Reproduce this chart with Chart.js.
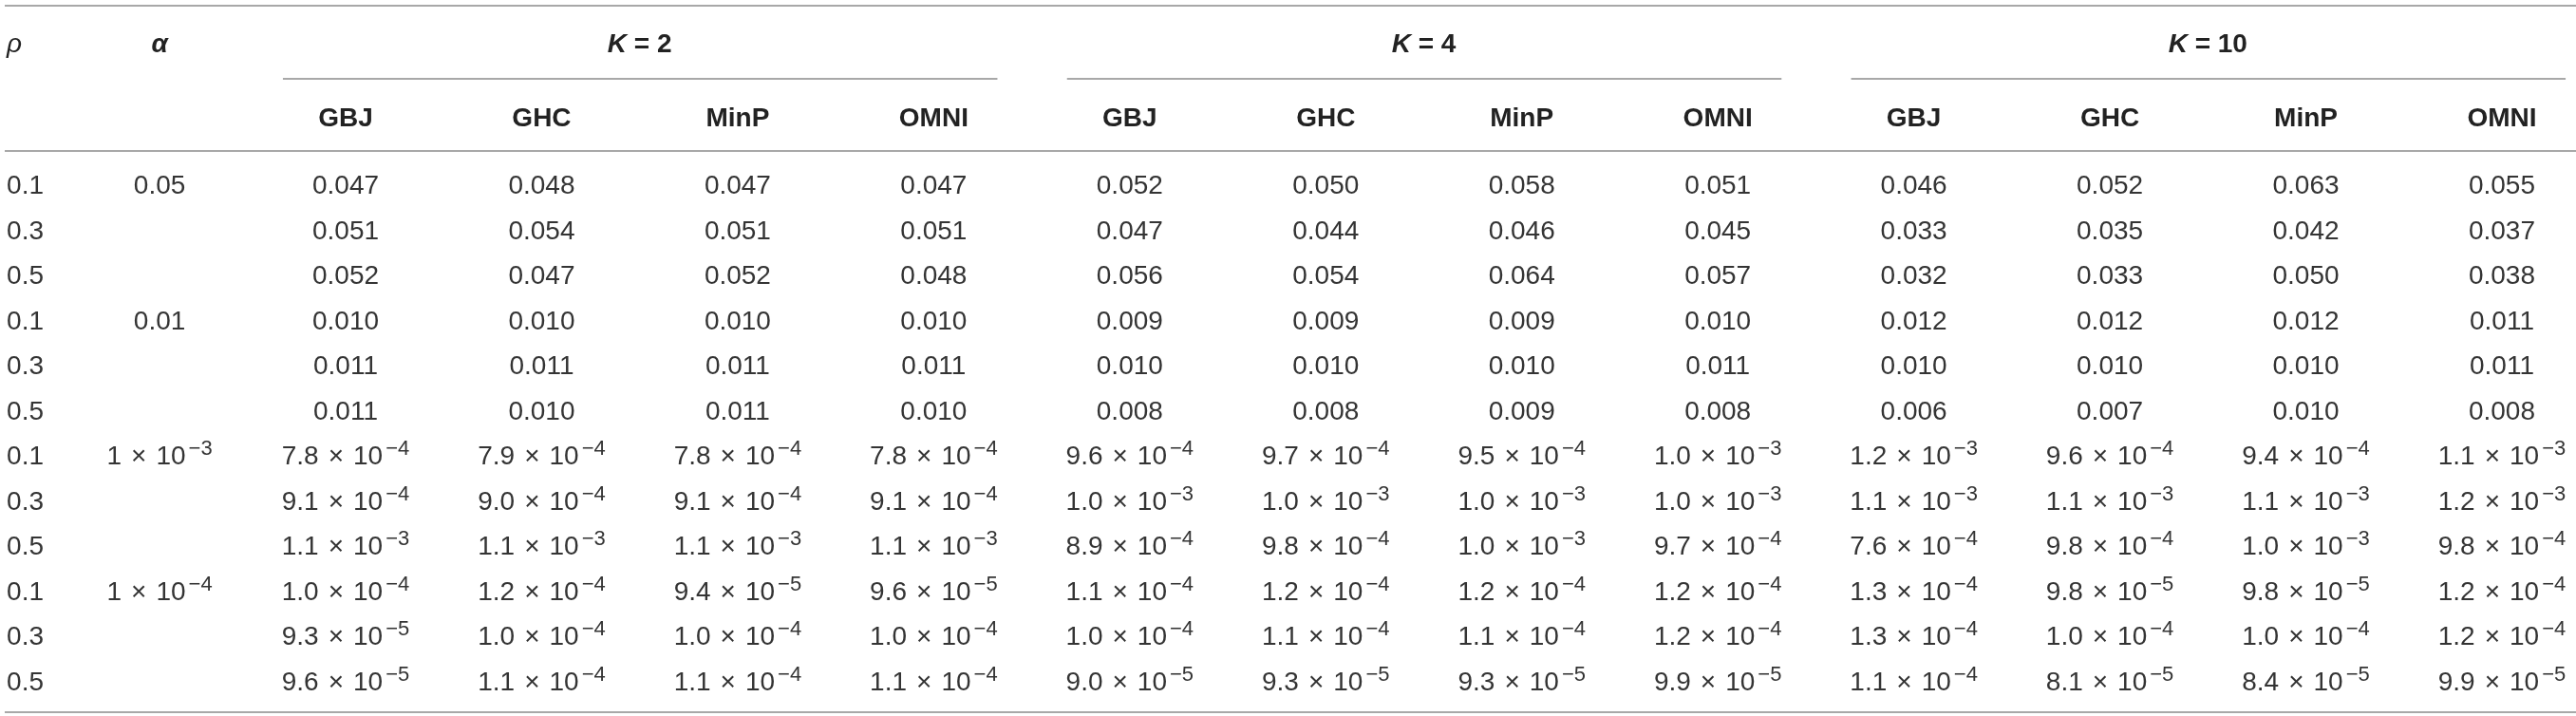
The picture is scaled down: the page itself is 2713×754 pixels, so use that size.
<!DOCTYPE html>
<html>
<head>
<meta charset="utf-8">
<script src="https://cdn.jsdelivr.net/npm/chart.js@4"></script>
<style>
html,body{margin:0;padding:0;background:#fff;}
canvas{display:block;}
</style>
</head>
<body>
<canvas id="c" width="2713" height="754"></canvas>
<script>
// ---------- DATA ----------
const rhoValues   = [0.1, 0.3, 0.5, 0.1, 0.3, 0.5, 0.1, 0.3, 0.5, 0.1, 0.3, 0.5];
const alphaValues = [0.05, 0.05, 0.05, 0.01, 0.01, 0.01, 1e-3, 1e-3, 1e-3, 1e-4, 1e-4, 1e-4];
const groupLabels = ['2', '4', '10'];
const methodLabels = ['GBJ', 'GHC', 'MinP', 'OMNI'];

const k2_GBJ  = [0.047, 0.051, 0.052, 0.010, 0.011, 0.011, 7.8e-4, 9.1e-4, 1.1e-3, 1.0e-4, 9.3e-5, 9.6e-5];
const k2_GHC  = [0.048, 0.054, 0.047, 0.010, 0.011, 0.010, 7.9e-4, 9.0e-4, 1.1e-3, 1.2e-4, 1.0e-4, 1.1e-4];
const k2_MinP = [0.047, 0.051, 0.052, 0.010, 0.011, 0.011, 7.8e-4, 9.1e-4, 1.1e-3, 9.4e-5, 1.0e-4, 1.1e-4];
const k2_OMNI = [0.047, 0.051, 0.048, 0.010, 0.011, 0.010, 7.8e-4, 9.1e-4, 1.1e-3, 9.6e-5, 1.0e-4, 1.1e-4];

const k4_GBJ  = [0.052, 0.047, 0.056, 0.009, 0.010, 0.008, 9.6e-4, 1.0e-3, 8.9e-4, 1.1e-4, 1.0e-4, 9.0e-5];
const k4_GHC  = [0.050, 0.044, 0.054, 0.009, 0.010, 0.008, 9.7e-4, 1.0e-3, 9.8e-4, 1.2e-4, 1.1e-4, 9.3e-5];
const k4_MinP = [0.058, 0.046, 0.064, 0.009, 0.010, 0.009, 9.5e-4, 1.0e-3, 1.0e-3, 1.2e-4, 1.1e-4, 9.3e-5];
const k4_OMNI = [0.051, 0.045, 0.057, 0.010, 0.011, 0.008, 1.0e-3, 1.0e-3, 9.7e-4, 1.2e-4, 1.2e-4, 9.9e-5];

const k10_GBJ  = [0.046, 0.033, 0.032, 0.012, 0.010, 0.006, 1.2e-3, 1.1e-3, 7.6e-4, 1.3e-4, 1.3e-4, 1.1e-4];
const k10_GHC  = [0.052, 0.035, 0.033, 0.012, 0.010, 0.007, 9.6e-4, 1.1e-3, 9.8e-4, 9.8e-5, 1.0e-4, 8.1e-5];
const k10_MinP = [0.063, 0.042, 0.050, 0.012, 0.010, 0.010, 9.4e-4, 1.1e-3, 1.0e-3, 9.8e-5, 1.0e-4, 8.4e-5];
const k10_OMNI = [0.055, 0.037, 0.038, 0.011, 0.011, 0.008, 1.1e-3, 1.2e-3, 9.8e-4, 1.2e-4, 1.2e-4, 9.9e-5];

const seriesByGroup = [
  [k2_GBJ, k2_GHC, k2_MinP, k2_OMNI],
  [k4_GBJ, k4_GHC, k4_MinP, k4_OMNI],
  [k10_GBJ, k10_GHC, k10_MinP, k10_OMNI]
];

// ---------- LAYOUT (column / row units on the chart's scales) ----------
const X_MIN = 0.2368, X_MAX = 13.378;
const Y_MIN = -4.084, Y_MAX = 11.789;
const COL_RHO = 0.271, COL_ALPHA = 1.051, COL_FIRST = 2;
const ROW_HEAD1 = -3.137, ROW_HEAD2 = -1.495;
const RULE_TOP = -3.958, RULE_GROUP = -2.337, RULE_HEAD = -0.737, RULE_BOTTOM = 11.705;
const RULE_LEFT = 0.261;
const GROUP_PAD_L = 0.32, GROUP_PAD_R = 0.325;

const FONT = "'Liberation Sans', Arial, Helvetica, sans-serif";
const TEXT_COLOR = '#343434';
const HEAD_COLOR = '#222222';
const RULE_COLOR = '#a8a8a8';

// ---------- datasets ----------
const datasets = [];
datasets.push({ label: 'rho', kind: 'rho', values: rhoValues,
  data: rhoValues.map((v, i) => ({ x: COL_RHO, y: i })) });
datasets.push({ label: 'alpha', kind: 'alpha', values: alphaValues,
  data: alphaValues.map((v, i) => ({ x: COL_ALPHA, y: i })) });
seriesByGroup.forEach((grp, g) => {
  grp.forEach((arr, m) => {
    const col = COL_FIRST + g * 4 + m;
    datasets.push({ label: 'K' + groupLabels[g] + '_' + methodLabels[m], kind: 'value', values: arr,
      data: arr.map((v, i) => ({ x: col, y: i })) });
  });
});
datasets.forEach(d => { d.pointRadius = 0; d.pointHoverRadius = 0; d.showLine = false; });

// ---------- helpers ----------
function drawSci(ctx, mant, exp, cx, cy, size) {
  const supSize = 22;
  const sp = 10, supGap = 3;
  const fMain = size + 'px ' + FONT, fSup = supSize + 'px ' + FONT;
  const sup = '\u2212' + exp;
  ctx.font = fMain;
  const wM = ctx.measureText(mant).width;
  const wX = ctx.measureText('\u00d7').width;
  const wT = ctx.measureText('10').width;
  ctx.font = fSup;
  const wS = ctx.measureText(sup).width;
  const total = wM + sp + wX + sp + wT + supGap + wS;
  let x = cx - total / 2;
  const base = cy + size * 0.358;
  ctx.textAlign = 'left';
  ctx.textBaseline = 'alphabetic';
  ctx.font = fMain;
  ctx.fillText(mant, x, base); x += wM + sp;
  ctx.fillText('\u00d7', x, base); x += wX + sp;
  ctx.fillText('10', x, base); x += wT + supGap;
  ctx.font = fSup;
  ctx.fillText(sup, x, base - 10);
}
function drawPlain(ctx, txt, cx, cy, size, align, font) {
  ctx.font = font || (size + 'px ' + FONT);
  ctx.textAlign = align || 'center';
  ctx.textBaseline = 'alphabetic';
  ctx.fillText(txt, cx, cy + size * 0.358);
}
function drawValue(ctx, v, alpha, cx, cy) {
  if (alpha >= 0.01) {
    drawPlain(ctx, v.toFixed(3), cx, cy, 28);
  } else {
    const s = v.toExponential(1).split('e');
    drawSci(ctx, s[0], String(Math.abs(parseInt(s[1], 10))), cx, cy, 28);
  }
}

const tablePlugin = {
  id: 'tableDraw',
  afterDatasetsDraw(chart) {
    const ctx = chart.ctx;
    const xs = chart.scales.x, ys = chart.scales.y;
    ctx.save();
    // rules
    ctx.strokeStyle = RULE_COLOR;
    ctx.lineWidth = 2;
    const hline = (y, x1, x2) => {
      ctx.beginPath();
      ctx.moveTo(xs.getPixelForValue(x1), ys.getPixelForValue(y));
      ctx.lineTo(xs.getPixelForValue(x2), ys.getPixelForValue(y));
      ctx.stroke();
    };
    hline(RULE_TOP, RULE_LEFT, X_MAX);
    hline(RULE_HEAD, RULE_LEFT, X_MAX);
    hline(RULE_BOTTOM, RULE_LEFT, X_MAX);
    groupLabels.forEach((g, gi) => {
      const c1 = COL_FIRST + gi * 4, c2 = c1 + 3;
      hline(RULE_GROUP, c1 - GROUP_PAD_L, Math.min(c2 + GROUP_PAD_R, X_MAX));
    });

    // header row 1
    ctx.fillStyle = HEAD_COLOR;
    const yH1 = ys.getPixelForValue(ROW_HEAD1);
    drawPlain(ctx, '\u03c1', xs.getPixelForValue(COL_RHO), yH1, 28, 'left', 'italic 28px ' + FONT);
    drawPlain(ctx, '\u03b1', xs.getPixelForValue(COL_ALPHA), yH1, 28, 'center', 'italic bold 28px ' + FONT);
    groupLabels.forEach((g, gi) => {
      const cx = xs.getPixelForValue(COL_FIRST + gi * 4 + 1.5);
      const fK = 'italic bold 28px ' + FONT, fR = 'bold 28px ' + FONT;
      ctx.font = fK; const wK = ctx.measureText('K').width;
      const rest = ' = ' + g;
      ctx.font = fR; const wR = ctx.measureText(rest).width;
      const x0 = cx - (wK + wR) / 2;
      drawPlain(ctx, 'K', x0, yH1, 28, 'left', fK);
      drawPlain(ctx, rest, x0 + wK, yH1, 28, 'left', fR);
    });
    // header row 2
    const yH2 = ys.getPixelForValue(ROW_HEAD2);
    groupLabels.forEach((g, gi) => {
      methodLabels.forEach((m, mi) => {
        drawPlain(ctx, m, xs.getPixelForValue(COL_FIRST + gi * 4 + mi), yH2, 28, 'center', 'bold 28px ' + FONT);
      });
    });

    // body cells from dataset elements
    ctx.fillStyle = TEXT_COLOR;
    chart.data.datasets.forEach((ds, di) => {
      const meta = chart.getDatasetMeta(di);
      meta.data.forEach((pt, i) => {
        const v = ds.values[i];
        if (ds.kind === 'rho') {
          drawPlain(ctx, v.toFixed(1), pt.x, pt.y, 28, 'left');
        } else if (ds.kind === 'alpha') {
          if (i % 3 !== 0) return;
          if (v >= 0.01) drawPlain(ctx, String(v), pt.x, pt.y, 28, 'center');
          else {
            const s = v.toExponential(0).split('e');
            drawSci(ctx, s[0], String(Math.abs(parseInt(s[1], 10))), pt.x, pt.y, 28);
          }
        } else {
          drawValue(ctx, v, alphaValues[i], pt.x, pt.y);
        }
      });
    });
    ctx.restore();
  }
};

new Chart(document.getElementById('c'), {
  type: 'scatter',
  data: { datasets },
  options: {
    responsive: false,
    animation: false,
    devicePixelRatio: 1,
    layout: { padding: 0 },
    plugins: { legend: { display: false }, tooltip: { enabled: false } },
    events: [],
    scales: {
      x: { type: 'linear', display: false, min: X_MIN, max: X_MAX, bounds: 'data' },
      y: { type: 'linear', display: false, min: Y_MIN, max: Y_MAX, reverse: true, bounds: 'data' }
    }
  },
  plugins: [tablePlugin]
});
</script>
</body>
</html>
